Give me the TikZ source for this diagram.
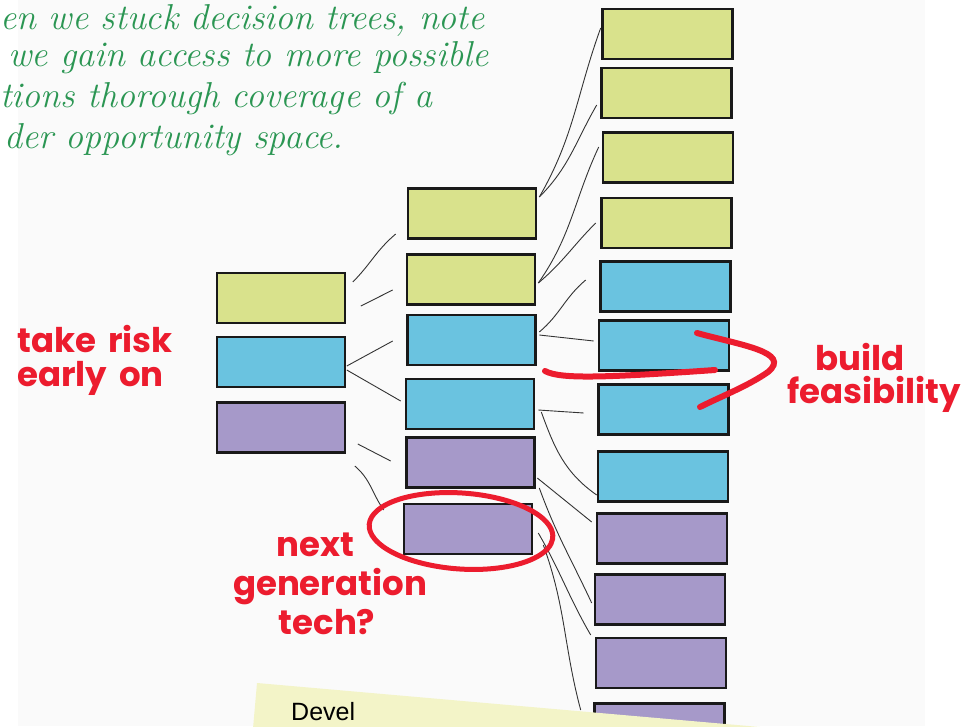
\documentclass[tikz,border=0pt]{standalone}
\usepackage{fontspec}
\newfontfamily\penfont{Poppins}
\newfontfamily\notefont{Liberation Sans}
\definecolor{leafgreen}{HTML}{D9E28C}
\definecolor{leafblue}{HTML}{6AC3E0}
\definecolor{leafpurple}{HTML}{A699C9}
\definecolor{markred}{HTML}{EC1C2E}
\definecolor{inkgreen}{HTML}{2B9653}
\definecolor{notepaper}{HTML}{F3F4C8}
\definecolor{paper}{HTML}{FAFAFA}
\tikzset{
  leaf/.style={draw=black!90, line width=2.6pt, minimum width=128pt, minimum height=50pt, inner sep=0pt},
  link/.style={line width=0.9pt, black!80},
  redpen/.style={markred, line width=6pt, line cap=round},
  scrawl/.style={markred, font=\penfont\bfseries\fontsize{34}{34}\selectfont, inner sep=0pt},
  hint/.style={inkgreen, anchor=base west, inner sep=0pt, font=\itshape\fontsize{36}{36}\selectfont},
}
\begin{document}
\begin{tikzpicture}[x=1pt, y=1pt]
  \useasboundingbox (0,0) rectangle (975,-726);
  \clip (0,0) rectangle (975,-726);
  \fill[white] (0,0) rectangle (975,-726);
  \fill[paper] (18,0) rectangle (925,-726);

  \node[hint] (hint1) at (0,-29) {en we stuck decision trees, note};
  \node[hint] (hint2) at (8,-66) {we gain access to more possible};
  \node[hint] (hint3) at (0,-107) {tions thorough coverage of a};
  \node[hint] (hint4) at (4,-148) {der opportunity space.};

  \node[leaf, fill=leafgreen] (l1) at (281,-298) {};
  \node[leaf, fill=leafblue] (l2) at (281,-362) {};
  \node[leaf, fill=leafpurple] (l3) at (281,-427.5) {};

  \node[leaf, fill=leafgreen] (m1) at (472,-213.5) {};
  \node[leaf, fill=leafgreen] (m2) at (471,-279.5) {};
  \node[leaf, fill=leafblue] (m3) at (471.5,-340) {};
  \node[leaf, fill=leafblue] (m4) at (470,-404) {};
  \node[leaf, fill=leafpurple] (m5) at (470.5,-462.5) {};
  \node[leaf, fill=leafpurple] (m6) at (468,-529) {};

  \node[leaf, fill=leafgreen, minimum width=130pt] (r1) at (667.5,-34) {};
  \node[leaf, fill=leafgreen, minimum width=130pt] (r2) at (666.5,-93) {};
  \node[leaf, fill=leafgreen, minimum width=130pt] (r3) at (668,-157.5) {};
  \node[leaf, fill=leafgreen, minimum width=130pt] (r4) at (666.5,-223) {};
  \node[leaf, fill=leafblue, minimum width=130pt] (r5) at (665.5,-286.5) {};
  \node[leaf, fill=leafblue, minimum width=130pt] (r6) at (664,-345.5) {};
  \node[leaf, fill=leafblue, minimum width=130pt] (r7) at (663.5,-409.5) {};
  \node[leaf, fill=leafblue, minimum width=130pt] (r8) at (663,-476.5) {};
  \node[leaf, fill=leafpurple, minimum width=130pt] (r9) at (662,-538.5) {};
  \node[leaf, fill=leafpurple, minimum width=130pt] (r10) at (660,-599.5) {};
  \node[leaf, fill=leafpurple, minimum width=130pt] (r11) at (661,-663) {};
  \node[leaf, fill=leafpurple, minimum width=130pt] (r12) at (659.5,-728.5) {};

  \draw[link] ([shift={(6.5,16)}]l1.east) to[out=45, in=220] ([shift={(-11,-20.5)}]m1.west);
  \draw[link] ([shift={(14.5,-8)}]l1.east) -- ([shift={(-13,-10.5)}]m2.west);
  \draw[link] ([shift={(0.5,-4)}]l2.east) -- ([shift={(-13.5,-1)}]m3.west);
  \draw[link] ([shift={(0.5,-8)}]l2.east) -- ([shift={(-4,3)}]m4.west);
  \draw[link] ([shift={(11.5,-16.5)}]l3.east) -- ([shift={(-14.5,1.5)}]m5.west);
  \draw[link] ([shift={(8.5,-38.5)}]l3.east) to[out=-40, in=125] ([shift={(-19,19)}]m6.west);

  \draw[link] ([shift={(2,16.5)}]m1.east) to[out=60, in=250] ([shift={(-0.5,6)}]r1.west);
  \draw[link] ([shift={(2,16.5)}]m1.east) to[out=45, in=240] ([shift={(-3.5,-12)}]r2.west);
  \draw[link] ([shift={(2,-3.5)}]m2.east) to[out=55, in=245] ([shift={(-3,10.5)}]r3.west);
  \draw[link] ([shift={(2,-3.5)}]m2.east) to[out=40, in=225] ([shift={(-4.5,0)}]r4.west);
  \draw[link] ([shift={(2.5,8)}]m3.east) to[out=40, in=220] ([shift={(-13.5,6.5)}]r5.west);
  \draw[link] ([shift={(2.5,5)}]m3.east) -- ([shift={(-4,4.5)}]r6.west);
  \draw[link] ([shift={(3,-6)}]m4.east) -- ([shift={(-13.5,-3.5)}]r7.west);
  \draw[link] ([shift={(6,-8)}]m4.east) to[out=-70, in=145] ([shift={(0,-18.5)}]r8.west);
  \draw[link] ([shift={(1.5,-15.5)}]m5.east) -- ([shift={(-4,16.5)}]r9.west);
  \draw[link] ([shift={(3.5,-25.5)}]m5.east) to[out=-70, in=115] ([shift={(-2,-3.5)}]r10.west);
  \draw[link] ([shift={(5,-4)}]m6.east) to[out=-60, in=120] ([shift={(-4,28)}]r11.west);
  \draw[link] ([shift={(10,-16)}]m6.east) to[out=-70, in=105] ([shift={(-12.5,18.5)}]r12.west);

  \draw[redpen, line width=5pt, rotate around={-4:(461,-531)}] (461,-531) ++(28:92 and 38)
    arc[start angle=28, end angle=398, x radius=92, y radius=38];
  \draw[redpen] (545,-371) .. controls (560,-379) and (600,-378) .. (715,-370);
  \draw[redpen] (697,-333) .. controls (740,-345) and (792,-352) .. (768,-372)
    .. controls (748,-386) and (722,-396) .. (700,-407);

  \node[scrawl, anchor=west] (risk1) at (17,-339) {take\hspace{12pt}risk};
  \node[scrawl, anchor=west] (risk2) at (17,-378) {early\hspace{12pt}on};
  \node[scrawl] (build1) at (860,-357) {build};
  \node[scrawl] (build2) at (874,-394) {feasibility};
  \node[scrawl] (next1) at (315,-545) {next};
  \node[scrawl] (next2) at (330,-587) {generation};
  \node[scrawl] (next3) at (327,-622) {tech?};

  \fill[notepaper, rotate around={-5:(257,-683)}] (257,-683) rectangle (800,-800);
  \node[anchor=north west, inner sep=0pt, font=\notefont\fontsize{25}{25}\selectfont] (memo) at (291,-702) {Devel};
\end{tikzpicture}
\end{document}
